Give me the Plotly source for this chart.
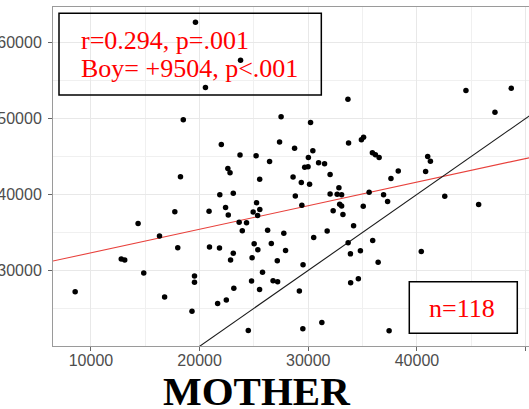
import plotly.graph_objects as go

# ---- data ----
mother = [19620, 23770, 20540, 18500, 44510, 48680, 47180, 33650, 27500, 30210,
          22000, 27360, 28740, 30420, 33710, 34890, 35090, 23720, 25200, 26440,
          30010, 30950, 31500, 29670, 29980, 35900, 36180, 36520, 40990, 41240,
          38280, 37610, 40800, 18240, 22600, 22800, 25530, 28600, 32010, 29360,
          30120, 32820, 21860, 23100, 28810, 32010, 32660, 33070, 35600, 36930,
          42560, 37300, 45680, 22390, 22640, 25240, 25540, 24930, 25340, 29410,
          32890, 33070, 32290, 33190, 35060, 17720, 20870, 14340, 23640, 24320,
          23930, 26260, 27750, 31740, 34170, 16310, 30500, 35930, 17990, 20910,
          21830, 25020, 25360, 26600, 27910, 33670, 33880, 34800, 40400, 23100,
          22850, 24830, 27150, 29520, 36430, 12790, 13110, 14860, 25790, 19530,
          19530, 24780, 26760, 27180, 33900, 34610, 8550, 16780, 23150, 25520,
          29180, 22460, 21660, 19300, 24480, 29500, 31250, 37440]

boy = [62670, 57670, 54080, 49820, 53680, 53990, 50830, 52540, 50240, 49470,
       46580, 46920, 46090, 45740, 46790, 47210, 47540, 45200, 45080, 44340,
       44880, 44180, 44030, 43590, 43660, 45500, 45240, 44880, 45010, 44360,
       43070, 42110, 43030, 42340, 43400, 42840, 42010, 42300, 42630, 41580,
       41330, 40870, 39970, 40170, 39780, 40070, 40040, 39950, 40280, 39970,
       39750, 39080, 38680, 38290, 37280, 38900, 38030, 37700, 37210, 38570,
       38700, 38490, 37840, 37370, 38460, 37710, 37780, 36180, 36330, 36260,
       35210, 35280, 34880, 35200, 35860, 34510, 34340, 33920, 32970, 33070,
       32960, 33490, 32710, 33530, 32630, 33630, 32180, 32580, 32470, 32240,
       31360, 31660, 31260, 30740, 31070, 31490, 31360, 29670, 29750, 29250,
       28420, 28590, 28620, 28500, 28370, 28880, 27180, 26490, 27650, 27470,
       27280, 26090, 25630, 24610, 22080, 22320, 23130, 22040]

reg_intercept = 29206
reg_slope = 0.3104

x_range = [6510, 50313]
y_range = [20040, 64684]

x_ticks = [10000, 20000, 30000, 40000, 50000]
y_ticks = [30000, 40000, 50000, 60000]

stats_line1 = "r=0.294, p=.001"
stats_line2 = "Boy= +9504, p<.001"
n_label = "n=118"
x_title = "MOTHER"

# ---- figure ----
line_x = [x_range[0] - 5000, x_range[1] + 5000]

fig = go.Figure()
fig.add_trace(go.Scatter(x=line_x, y=[reg_intercept + reg_slope * v for v in line_x],
                         mode="lines", line=dict(color="#e8413c", width=1.1),
                         hoverinfo="skip", showlegend=False))
fig.add_trace(go.Scatter(x=line_x, y=line_x, mode="lines",
                         line=dict(color="#1a1a1a", width=1.1),
                         hoverinfo="skip", showlegend=False))
fig.add_trace(go.Scatter(x=mother, y=boy, mode="markers",
                         marker=dict(color="black", size=5.5, line=dict(width=0)),
                         showlegend=False, cliponaxis=True))

minor_grid = dict(showgrid=True, gridcolor="#f0f0f0", gridwidth=0.8, dtick=5000, tick0=0)
axis_common = dict(
    showline=True, linecolor="#9a9a9a", linewidth=1, mirror=True,
    ticks="outside", ticklen=4, tickcolor="#666666", tickwidth=1,
    showgrid=True, gridcolor="#e8e8e8", gridwidth=1.2,
    zeroline=False, automargin=False,
    tickfont=dict(family="Liberation Sans, Arial", size=16, color="#4d4d4d"),
    minor=minor_grid,
)

fig.update_layout(
    width=529, height=409,
    margin=dict(l=53, r=0, t=7, b=63, autoexpand=False),
    paper_bgcolor="white", plot_bgcolor="white",
    xaxis=dict(range=x_range, tickvals=x_ticks, ticktext=[str(v) for v in x_ticks],
               ticklabelstandoff=-4, **axis_common),
    yaxis=dict(range=y_range, tickvals=y_ticks, ticktext=[str(v) for v in y_ticks],
               ticklabelstandoff=3, **axis_common),
    showlegend=False,
)

# stats box (transparent) and n box (white)
fig.add_shape(type="rect", xref="paper", yref="paper",
              x0=0.0126, x1=0.5637, y0=0.7404, y1=0.9814,
              line=dict(color="black", width=1.5), fillcolor="rgba(0,0,0,0)", layer="above")
fig.add_shape(type="rect", xref="paper", yref="paper",
              x0=0.7485, x1=0.9754, y0=0.0375, y1=0.1897,
              line=dict(color="black", width=1.5), fillcolor="white", layer="above")

serif = "Liberation Serif, Times New Roman, serif"
fig.add_annotation(text=stats_line1, xref="paper", yref="paper", x=0.054, y=0.9006,
                   xanchor="left", yanchor="middle", showarrow=False,
                   font=dict(family=serif, size=26, color="#ff0000"))
fig.add_annotation(text=stats_line2, xref="paper", yref="paper", x=0.054, y=0.818,
                   xanchor="left", yanchor="middle", showarrow=False,
                   font=dict(family=serif, size=26, color="#ff0000"))
fig.add_annotation(text=n_label, xref="paper", yref="paper", x=0.8597, y=0.1097,
                   xanchor="center", yanchor="middle", showarrow=False,
                   font=dict(family=serif, size=26, color="#ff0000"))
fig.add_annotation(text="<b>" + x_title + "</b>", xref="paper", yref="paper",
                   x=0.4265, y=-0.133, xanchor="center", yanchor="middle", showarrow=False,
                   font=dict(family=serif, size=41, color="black"))

fig.write_html("out.html")
